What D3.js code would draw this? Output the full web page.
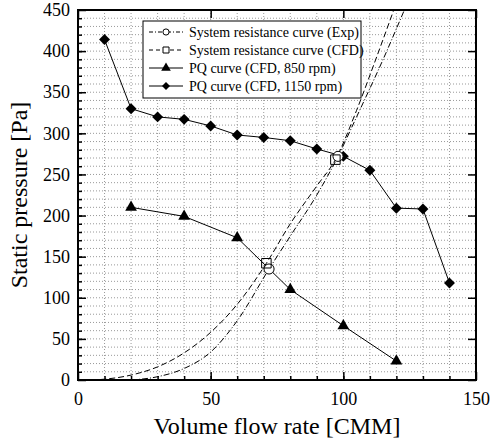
<!DOCTYPE html><html><head><script src="https://cdn.jsdelivr.net/npm/d3@7"></script>
<style>body{margin:0;background:#fff}text{font-family:"Liberation Serif","Times New Roman",serif}</style></head><body>
<svg id="c" width="494" height="442"></svg>
<script>
const xTicks=[0,50,100,150], yTicks=[0,50,100,150,200,250,300,350,400,450];
const sysExp=[[20,0],[30,4],[40,14],[50,34],[60,72],[72,135],[80,175],[90,225],[98,272],[105,320],[115,390],[123,450]];
const sysCfd=[[5,0],[10,1],[20,6],[30,16],[40,33],[50,58],[60,92],[71,142],[80,190],[90,236],[97,268],[105,328],[112,388],[119,450]];
const expPts=[[72,135],[98,272]];
const cfdPts=[[71,142],[97,268]];
const pq850=[[20,210],[40,199],[60,173],[80,110],[100,66],[120,23]];
const pq1150=[[10,414],[20,330],[30,320],[40,317],[50,309],[60,298],[70,295],[80,291],[90,281],[100,272],[110,255],[120,209],[130,208],[140,118]];
const legendLabels=["System resistance curve (Exp)","System resistance curve (CFD)","PQ curve (CFD, 850 rpm)","PQ curve (CFD, 1150 rpm)"];
const L=78,R=476,T=10,B=380;
const svg=d3.select("#c");
const x=d3.scaleLinear().domain([0,150]).range([L,R]);
const y=d3.scaleLinear().domain([0,450]).range([B,T]);
const defs=svg.append("defs");
defs.append("clipPath").attr("id","cp").append("rect").attr("x",L).attr("y",T).attr("width",R-L).attr("height",B-T);
const g=svg.append("g");
g.selectAll(".gx").data(d3.range(10,150,10)).join("line").attr("x1",d=>x(d)).attr("x2",d=>x(d)).attr("y1",T).attr("y2",B).attr("stroke","#999").attr("stroke-dasharray","1,2");
g.selectAll(".gy").data(d3.range(10,450,10)).join("line").attr("y1",d=>y(d)).attr("y2",d=>y(d)).attr("x1",L).attr("x2",R).attr("stroke","#999").attr("stroke-dasharray","1,2");
const xa=svg.append("g").attr("transform",`translate(0,${B})`).call(d3.axisBottom(x).tickValues(xTicks).tickSize(-8).tickPadding(12).tickFormat(d3.format("d")));
const xm=svg.append("g").attr("transform",`translate(0,${B})`).call(d3.axisBottom(x).tickValues(d3.range(10,150,10)).tickSize(-4).tickFormat(""));
const ya=svg.append("g").attr("transform",`translate(${L},0)`).call(d3.axisLeft(y).tickValues(yTicks).tickSize(-8).tickPadding(8));
const ym=svg.append("g").attr("transform",`translate(${L},0)`).call(d3.axisLeft(y).tickValues(d3.range(10,450,10)).tickSize(-4).tickFormat(""));
[xa,xm,ya,ym].forEach(a=>{a.select(".domain").remove();a.selectAll("line").attr("stroke","#000").attr("stroke-width",1.5);a.selectAll("text").attr("font-size",18).attr("fill","#000").style("font-family","Liberation Serif");});
svg.append("g").attr("transform",`translate(${R},0)`).call(d3.axisRight(y).tickValues(yTicks).tickSize(-8).tickFormat("")).call(a=>{a.select(".domain").remove();a.selectAll("line").attr("stroke","#000").attr("stroke-width",1.5)});
svg.append("g").attr("transform",`translate(0,${T})`).call(d3.axisTop(x).tickValues(xTicks).tickSize(-8).tickFormat("")).call(a=>{a.select(".domain").remove();a.selectAll("line").attr("stroke","#000").attr("stroke-width",1.5)});
svg.append("rect").attr("x",L).attr("y",T).attr("width",R-L).attr("height",B-T).attr("fill","none").attr("stroke","#000").attr("stroke-width",2);
const line=d3.line().x(d=>x(d[0])).y(d=>y(d[1]));
const cg=svg.append("g").attr("clip-path","url(#cp)");
cg.append("path").datum(sysExp).attr("d",line.curve(d3.curveMonotoneX)).attr("fill","none").attr("stroke","#000").attr("stroke-dasharray","6,2,1,2");
cg.append("path").datum(sysCfd).attr("d",line.curve(d3.curveMonotoneX)).attr("fill","none").attr("stroke","#000").attr("stroke-dasharray","6,3");
const sl=d3.line().x(d=>x(d[0])).y(d=>y(d[1]));
cg.append("path").datum(pq850).attr("d",sl).attr("fill","none").attr("stroke","#000");
cg.append("path").datum(pq1150).attr("d",sl).attr("fill","none").attr("stroke","#000");
const tri=d3.symbol(d3.symbolTriangle,60), sq=d3.symbol(d3.symbolSquare,90), ci=d3.symbol(d3.symbolCircle,80);
cg.selectAll(".t").data(pq850).join("path").attr("d",tri).attr("transform",d=>`translate(${x(d[0])},${y(d[1])})`);
cg.selectAll(".d").data(pq1150).join("path").attr("d",d3.symbol(d3.symbolSquare,60)).attr("transform",d=>`translate(${x(d[0])},${y(d[1])}) rotate(45)`);
cg.selectAll(".c").data(expPts).join("path").attr("d",ci).attr("fill","#fff").attr("stroke","#000").attr("transform",d=>`translate(${x(d[0])},${y(d[1])})`);
cg.selectAll(".s").data(cfdPts).join("path").attr("d",sq).attr("fill","none").attr("stroke","#000").attr("transform",d=>`translate(${x(d[0])},${y(d[1])})`);
const lg=svg.append("g").attr("transform","translate(143,21)");
lg.append("rect").attr("width",218).attr("height",77).attr("fill","#fff").attr("stroke","#000");
const dashes=["4,2,1,2","4,3",null,null];
legendLabels.forEach((t,i)=>{
 const yy=11+i*18;
 const ln=lg.append("line").attr("x1",6).attr("x2",40).attr("y1",yy).attr("y2",yy).attr("stroke","#000");
 if(dashes[i]) ln.attr("stroke-dasharray",dashes[i]);
 const m=lg.append("path").attr("d",[d3.symbol(d3.symbolCircle,30),d3.symbol(d3.symbolSquare,36),d3.symbol(d3.symbolTriangle,40),d3.symbol(d3.symbolSquare,32)][i]).attr("transform",`translate(23,${yy})`+(i==3?" rotate(45)":""));
 if(i<2) m.attr("fill","#fff").attr("stroke","#000");
 lg.append("text").attr("x",46).attr("y",yy+5).attr("font-size",14).text(t);
});
svg.append("text").attr("x",(L+R)/2).attr("y",434).attr("text-anchor","middle").attr("font-size",24).text("Volume flow rate [CMM]");
svg.append("text").attr("transform",`translate(27,${(T+B)/2}) rotate(-90)`).attr("text-anchor","middle").attr("font-size",24).text("Static pressure [Pa]");
</script></body></html>
